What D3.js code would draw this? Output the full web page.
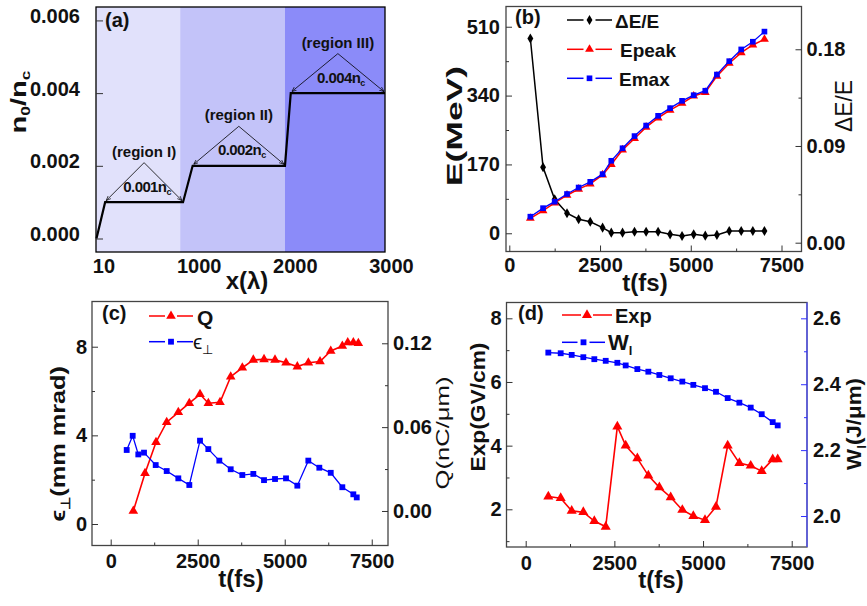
<!DOCTYPE html>
<html>
<head>
<meta charset="utf-8">
<script src="https://cdn.jsdelivr.net/npm/d3@7"></script>
<style>body { margin: 0; background: #fff; }</style>
</head>
<body>
<script>
// ---- (a) density profile ----
var profX = [0, 90, 900, 1000, 1960, 2020, 3000];
var profN = [0, 0.001, 0.001, 0.002, 0.002, 0.004, 0.004];
var regionEdges = [0, 870, 1960, 3000];
var regionNames = ["(region I)", "(region II)", "(region III)"];
var regionDens = ["0.001n", "0.002n", "0.004n"];
var regionFlat = [[90, 900], [1000, 1960], [2020, 3000]];
var regionLevel = [0.001, 0.002, 0.004];
var regionColors = ["#e1e1fb", "#c3c3f9", "#8b8bf9"];
var aTicksY = [0, 0.002, 0.004, 0.006];
var aTicksX = [10, 1000, 2000, 3000];

// ---- (b) energy ----
var tB = [580, 930, 1250, 1590, 1910, 2230, 2570, 2810, 3120, 3450, 3770, 4100, 4430, 4760, 5080, 5400, 5720, 6060, 6390, 6710, 7030];
var dEE = [0.190, 0.0702, 0.0404, 0.0274, 0.0218, 0.0195, 0.0140, 0.0093, 0.0093, 0.0102, 0.0102, 0.0102, 0.0078, 0.0062, 0.0078, 0.0065, 0.0072, 0.0109, 0.0109, 0.0109, 0.0109];
var Epeak = [37, 56, 75, 94, 109, 122, 144, 170, 206, 234, 262, 285, 304, 321, 339, 348, 388, 420, 446, 465, 479];
var Emax = [41, 62, 78, 97, 113, 127, 146, 179, 210, 240, 266, 290, 309, 327, 341, 352, 392, 425, 454, 473, 498];
var bTicksL = [0, 170, 340, 510], bMinorL = [85, 255, 425];
var bTicksR = [0, 0.09, 0.18], bMinorR = [0.045, 0.135];

// ---- (c) charge and emittance ----
var tQ = [650, 986, 1302, 1609, 1943, 2259, 2566, 2805, 3141, 3448, 3782, 4098, 4405, 4721, 5037, 5362, 5679, 6014, 6322, 6655, 6810, 6972, 7115];
var Q = [0.000, 0.0270, 0.0492, 0.0635, 0.0706, 0.0771, 0.0835, 0.0771, 0.0778, 0.0961, 0.1025, 0.1081, 0.1085, 0.1081, 0.1061, 0.1033, 0.1061, 0.1069, 0.1145, 0.1181, 0.1205, 0.1205, 0.1200];
var tEps = [460, 632, 793, 957, 1293, 1609, 1943, 2259, 2566, 2805, 3121, 3448, 3782, 4098, 4405, 4721, 5037, 5362, 5678, 5994, 6322, 6655, 6971, 7069];
var eps = [3.34, 3.98, 3.14, 3.22, 2.66, 2.39, 2.06, 1.76, 3.76, 3.38, 2.86, 2.47, 2.21, 2.26, 1.98, 2.03, 2.06, 1.73, 2.86, 2.54, 2.31, 1.66, 1.34, 1.20];
var cTicksL = [0, 4, 8], cMinorL = [2, 6];
var cTicksR = [0, 0.06, 0.12], cMinorR = [0.03, 0.09];

// ---- (d) field and laser energy ----
var tD = [638, 987, 1297, 1625, 1935, 2256, 2584, 2819, 3148, 3458, 3768, 4088, 4416, 4726, 5055, 5365, 5695, 6024, 6344, 6654, 6964, 7105];
var Exp = [2.40, 2.35, 1.95, 1.91, 1.63, 1.45, 4.60, 4.00, 3.60, 3.06, 2.69, 2.38, 1.98, 1.79, 1.66, 2.08, 4.00, 3.45, 3.37, 3.20, 3.57, 3.57];
var Wl = [2.496, 2.494, 2.489, 2.482, 2.476, 2.471, 2.465, 2.457, 2.446, 2.438, 2.428, 2.418, 2.408, 2.398, 2.388, 2.377, 2.358, 2.344, 2.329, 2.309, 2.285, 2.275];
var dTicksL = [2, 4, 6, 8], dMinorL = [1, 3, 5, 7];
var dTicksR = [2.0, 2.2, 2.4, 2.6], dMinorR = [2.1, 2.3, 2.5];

var tTicks = [0, 2500, 5000, 7500], tMinor = [1250, 3750, 6250];

var FONT = "'Liberation Sans', Arial, sans-serif";

var svg = d3.select("body").append("svg").attr("width", 867).attr("height", 606);
svg.append("rect").attr("width", 867).attr("height", 606).attr("fill", "#fff");

var defs = svg.append("defs");
defs.append("marker").attr("id", "arr").attr("viewBox", "0 0 10 10")
  .attr("refX", 10).attr("refY", 5).attr("markerWidth", 6).attr("markerHeight", 6)
  .attr("orient", "auto-start-reverse")
  .append("path").attr("d", "M0,1 L10,5 L0,9").attr("fill", "none").attr("stroke", "#000").attr("stroke-width", 1.4);

function axis(g, gen, tx, ty, color) {
  var a = g.append("g").attr("transform", "translate(" + tx + "," + ty + ")").call(gen);
  a.select(".domain").remove();
  a.selectAll("line").attr("stroke", color || "#333").attr("stroke-width", 1);
  a.selectAll("text").attr("fill", "#111")
    .style("font-family", FONT).style("font-size", "20px").style("font-weight", "bold");
  return a;
}

function ticksLR(g, scale, side, pos, maj, min, fmt, pad, color) {
  var mk = side === "left" ? d3.axisLeft : d3.axisRight;
  axis(g, mk(scale).tickValues(maj).tickSizeInner(-6).tickSizeOuter(0).tickPadding(pad).tickFormat(fmt), pos, 0, color);
  if (min) axis(g, mk(scale).tickValues(min).tickSizeInner(-3).tickSizeOuter(0).tickFormat(""), pos, 0, color);
}

function ticksB(g, scale, pos, pad) {
  axis(g, d3.axisBottom(scale).tickValues(tTicks).tickSizeInner(-6).tickSizeOuter(0).tickPadding(pad).tickFormat(d3.format("d")), 0, pos);
  axis(g, d3.axisBottom(scale).tickValues(tMinor).tickSizeInner(-3).tickSizeOuter(0).tickFormat(""), 0, pos);
}

function frame(g, box, color) {
  g.append("rect").attr("x", box.l).attr("y", box.t)
    .attr("width", box.r - box.l).attr("height", box.b - box.t)
    .attr("fill", "none").attr("stroke", color).attr("stroke-width", 1.3);
}

function series(g, x, y, xs, ys, color, sym, size, lw) {
  var pts = xs.map(function (t, i) { return [t, ys[i]]; });
  g.append("path").datum(pts)
    .attr("d", d3.line().x(function (d) { return x(d[0]); }).y(function (d) { return y(d[1]); }))
    .attr("fill", "none").attr("stroke", color).attr("stroke-width", lw);
  g.selectAll(null).data(pts).enter().append("path")
    .attr("transform", function (d) { return "translate(" + x(d[0]) + "," + y(d[1]) + ")"; })
    .attr("d", d3.symbol().type(sym).size(size))
    .attr("fill", color);
}

function legendLine(g, x1, x2, y, color, sym, size) {
  var xm = (x1 + x2) / 2;
  g.append("line").attr("x1", x1).attr("x2", xm - 6).attr("y1", y).attr("y2", y).attr("stroke", color).attr("stroke-width", 1.5);
  g.append("line").attr("x1", xm + 6).attr("x2", x2).attr("y1", y).attr("y2", y).attr("stroke", color).attr("stroke-width", 1.5);
  g.append("path").attr("transform", "translate(" + xm + "," + y + ")")
    .attr("d", d3.symbol().type(sym).size(size)).attr("fill", color);
}

// text with optional subscripts: parts = [[str, isSub], ...]
function richText(g, parts, size, weight) {
  var t = g.append("text").style("font-family", FONT).style("font-size", size + "px")
    .style("font-weight", weight).attr("fill", "#111");
  parts.forEach(function (p) {
    var s = t.append("tspan").text(p[0]);
    if (p[1]) s.style("font-size", Math.round(size * 0.6) + "px").attr("baseline-shift", "-35%");
  });
  return t;
}

function hLabel(g, parts, x, y, size, weight, anchor) {
  return richText(g, parts, size, weight).attr("x", x).attr("y", y).attr("text-anchor", anchor || "start");
}

// rotated label stretched along the text to the reference length
function vLabel(g, parts, bx, cy, len, size, weight, rot) {
  var t = richText(g, parts, size, weight).attr("text-anchor", "middle");
  var w = t.node().getComputedTextLength();
  t.attr("transform", "translate(" + bx + "," + cy + ") rotate(" + (rot || -90) + ") scale(" + (len / w) + ",1)");
  return t;
}

// ================= panel (a) =================
(function () {
  var box = {l: 96, r: 385, t: 7, b: 252};
  var g = svg.append("g");
  var x = d3.scaleLinear().domain([-5, 3000]).range([box.l, box.r]);
  var y = d3.scaleLinear().domain([-0.000371, 0.006369]).range([box.b, box.t]);

  g.selectAll(null).data(regionColors).enter().append("rect")
    .attr("x", function (d, i) { return i === 0 ? box.l : x(regionEdges[i]); })
    .attr("width", function (d, i) { return (i === 2 ? box.r : x(regionEdges[i + 1])) - (i === 0 ? box.l : x(regionEdges[i])); })
    .attr("y", box.t).attr("height", box.b - box.t)
    .attr("fill", function (d) { return d; });

  g.append("path").datum(profX.map(function (v, i) { return [v, profN[i]]; }))
    .attr("d", d3.line().x(function (d) { return x(d[0]); }).y(function (d) { return y(d[1]); }))
    .attr("fill", "none").attr("stroke", "#000").attr("stroke-width", 2.2);

  regionNames.forEach(function (name, i) {
    var x1 = x(regionFlat[i][0]) + 1, x2 = x(regionFlat[i][1]) - 1;
    var ly = y(regionLevel[i]) - 1.5;
    var ax = (x1 + x2) / 2, ay = ly - 38;
    g.append("line").attr("x1", ax).attr("y1", ay).attr("x2", x1).attr("y2", ly)
      .attr("stroke", "#000").attr("stroke-width", 0.8).attr("marker-end", "url(#arr)");
    g.append("line").attr("x1", ax).attr("y1", ay).attr("x2", x2).attr("y2", ly)
      .attr("stroke", "#000").attr("stroke-width", 0.8).attr("marker-end", "url(#arr)");
    hLabel(g, [[name, false]], ax, ay - 6, 15, "bold", "middle");
    hLabel(g, [[regionDens[i], false], ["c", true]], ax + 3, ly - 9, 15, "bold", "middle")
      .style("letter-spacing", "-0.6px");
  });

  frame(g, box, "#000");
  var ya = axis(g, d3.axisLeft(y).tickValues(aTicksY).tickSizeInner(-7).tickSizeOuter(0).tickPadding(16).tickFormat(d3.format(".3f")), box.l, 0, "#333");
  ya.selectAll("text").attr("dy", "0.1em");
  var xa = axis(g, d3.axisBottom(x).tickValues(aTicksX).tickSize(0).tickPadding(7).tickFormat(d3.format("d")), 0, box.b);
  xa.selectAll("text").attr("dx", 6);

  hLabel(g, [["(a)", false]], 105, 27, 20, "bold");
  hLabel(g, [["x(λ)", false]], 247, 289, 24, "bold", "middle");
  vLabel(g, [["n", false], ["0", true], ["/n", false], ["c", true]], 26, 102, 63, 22, "bold");
})();

// ================= panel (b) =================
(function () {
  var box = {l: 506, r: 801.5, t: 6.5, b: 251.5};
  var g = svg.append("g");
  var x = d3.scaleLinear().domain([-91, 8051]).range([box.l, box.r]);
  var yL = d3.scaleLinear().domain([-45, 560]).range([box.b, box.t]);
  var yR = d3.scaleLinear().domain([-0.0082, 0.2198]).range([box.b, box.t]);

  series(g, x, yR, tB, dEE, "#000", d3.symbolDiamond, 30, 1.5);
  series(g, x, yL, tB, Epeak, "#ff0000", d3.symbolTriangle, 34, 1.5);
  series(g, x, yL, tB, Emax, "#0000ff", d3.symbolSquare, 32, 1.3);

  frame(g, box, "#444");
  ticksLR(g, yL, "left", box.l, bTicksL, bMinorL, d3.format("d"), 6);
  ticksLR(g, yR, "right", box.r, bTicksR, bMinorR, d3.format(".2f"), 5);
  ticksB(g, x, box.b, 6);

  legendLine(g, 567, 612, 20, "#000", d3.symbolDiamond, 30);
  legendLine(g, 567, 612, 49.3, "#ff0000", d3.symbolTriangle, 34);
  legendLine(g, 567, 612, 78.3, "#0000ff", d3.symbolSquare, 32);
  hLabel(g, [["ΔE/E", false]], 615, 27.7, 19, "bold");
  hLabel(g, [["Epeak", false]], 620, 56.7, 19, "bold");
  hLabel(g, [["Emax", false]], 619, 85.7, 19, "bold");

  hLabel(g, [["(b)", false]], 515, 24, 20, "bold");
  hLabel(g, [["t(fs)", false]], 645, 291, 24, "bold", "middle");
  vLabel(g, [["E(MeV)", false]], 462, 126, 120, 22, "bold");
  vLabel(g, [["ΔE/E", false]], 852, 106, 52, 23, "normal");
})();

// ================= panel (c) =================
(function () {
  var box = {l: 92, r: 388, t: 301.5, b: 545.5};
  var g = svg.append("g");
  var x = d3.scaleLinear().domain([-537, 7967]).range([box.l, box.r]);
  var yL = d3.scaleLinear().domain([-0.97, 10.04]).range([box.b, box.t]);
  var yR = d3.scaleLinear().domain([-0.0247, 0.1499]).range([box.b, box.t]);

  series(g, x, yR, tQ, Q, "#ff0000", d3.symbolTriangle, 40, 1.6);
  series(g, x, yL, tEps, eps, "#0000ff", d3.symbolSquare, 34, 1.3);

  frame(g, box, "#444");
  ticksLR(g, yL, "left", box.l, cTicksL, cMinorL, d3.format("d"), 5);
  ticksLR(g, yR, "right", box.r, cTicksR, cMinorR, d3.format(".2f"), 5);
  ticksB(g, x, box.b, 8);

  legendLine(g, 149, 193, 316, "#ff0000", d3.symbolTriangle, 40);
  legendLine(g, 149, 193, 341.7, "#0000ff", d3.symbolSquare, 34);
  hLabel(g, [["Q", false]], 197, 325, 21, "bold");
  hLabel(g, [["ϵ", false], ["⊥", true]], 193, 349, 21, "normal");

  hLabel(g, [["(c)", false]], 102, 320, 20, "bold");
  hLabel(g, [["t(fs)", false]], 241, 587, 24, "bold", "middle");
  vLabel(g, [["ϵ", false], ["⊥", true], ["(mm mrad)", false]], 65, 444, 156, 21, "bold");
  vLabel(g, [["Q(nC/μm)", false]], 449, 433, 113, 18, "normal");
})();

// ================= panel (d) =================
(function () {
  var box = {l: 506.5, r: 807, t: 302.5, b: 547};
  var g = svg.append("g");
  var x = d3.scaleLinear().domain([-541, 7931]).range([box.l, box.r]);
  var yL = d3.scaleLinear().domain([0.816, 8.497]).range([box.b, box.t]);
  var yR = d3.scaleLinear().domain([1.906, 2.648]).range([box.b, box.t]);

  series(g, x, yL, tD, Exp, "#ff0000", d3.symbolTriangle, 44, 1.6);
  series(g, x, yR, tD, Wl, "#0000ff", d3.symbolSquare, 34, 1.3);

  frame(g, box, "#444");
  g.append("line").attr("x1", box.r).attr("x2", box.r).attr("y1", box.t).attr("y2", box.b)
    .attr("stroke", "#5050ff").attr("stroke-width", 1.3);
  ticksLR(g, yL, "left", box.l, dTicksL, dMinorL, d3.format("d"), 5);
  ticksLR(g, yR, "right", box.r, dTicksR, dMinorR, d3.format(".1f"), 6, "#3030ff");
  ticksB(g, x, box.b, 9);

  legendLine(g, 562, 612, 315, "#ff0000", d3.symbolTriangle, 44);
  legendLine(g, 562, 605, 342.3, "#0000ff", d3.symbolSquare, 34);
  hLabel(g, [["Exp", false]], 615, 322.7, 20, "bold");
  hLabel(g, [["W", false], ["l", true]], 608, 350, 22, "bold");

  hLabel(g, [["(d)", false]], 518, 320, 20, "bold");
  hLabel(g, [["t(fs)", false]], 661, 588, 24, "bold", "middle");
  vLabel(g, [["Exp(GV/cm)", false]], 485, 407, 129, 20, "bold");
  vLabel(g, [["W", false], ["l", true], ["(J/μm)", false]], 861, 424, 92, 20, "bold");
})();
</script>
</body>
</html>
